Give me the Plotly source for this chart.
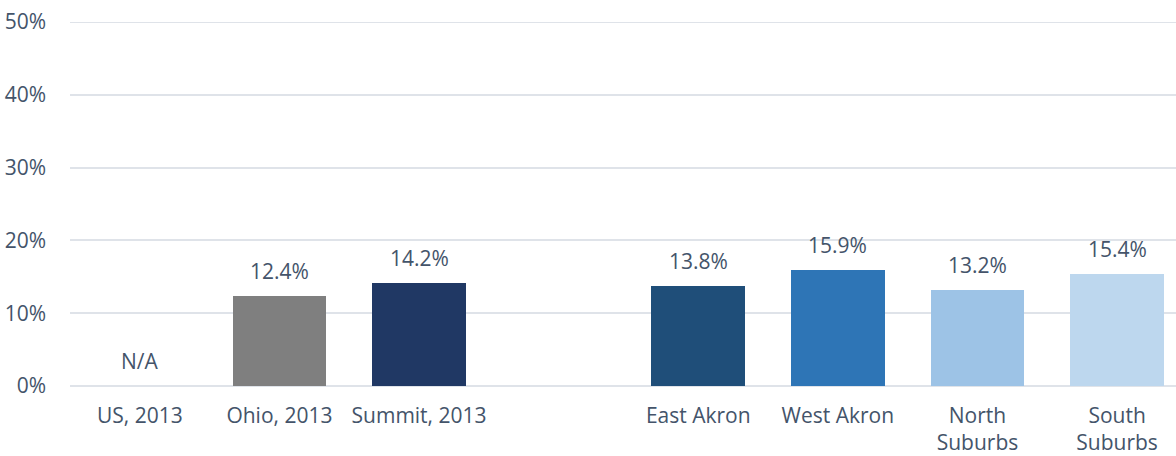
import plotly.graph_objects as go

categories = ["US, 2013", "Ohio, 2013", "Summit, 2013", "", "East Akron", "West Akron", "North<br>Suburbs", "South<br>Suburbs"]
values = [None, 12.4, 14.2, None, 13.8, 15.9, 13.2, 15.4]
value_labels = ["N/A", "12.4%", "14.2%", "", "13.8%", "15.9%", "13.2%", "15.4%"]
bar_colors = ["#7f7f7f", "#7f7f7f", "#203864", "#ffffff", "#1f4e79", "#2e75b6", "#9dc3e6", "#bdd7ee"]
y_ticks = [0, 10, 20, 30, 40, 50]
y_tick_labels = ["0%", "10%", "20%", "30%", "40%", "50%"]

FONT = "Open Sans"
TXT = "#44546a"
GRID = "#dfe3e9"
FS = 21

xs = list(range(len(categories)))

fig = go.Figure()
fig.add_trace(go.Bar(
    x=xs,
    y=[v if v is not None else 0 for v in values],
    marker=dict(color=bar_colors, line=dict(width=0)),
    width=0.67,
    hoverinfo="skip",
))

for x, v, lab in zip(xs, values, value_labels):
    if lab == "":
        continue
    fig.add_annotation(
        x=x, y=v if v is not None else 0,
        text=lab, showarrow=False,
        xanchor="center", yanchor="middle", yshift=25,
        font=dict(family=FONT, size=FS, color=TXT),
    )

fig.update_layout(
    width=1176, height=456,
    margin=dict(l=69.5, r=0, t=22, b=70, pad=0),
    paper_bgcolor="white", plot_bgcolor="white",
    showlegend=False,
    font=dict(family=FONT, size=FS, color=TXT),
    bargap=0,
    xaxis=dict(
        tickmode="array", tickvals=xs, ticktext=categories,
        range=[-0.5, 7.422], showgrid=False, zeroline=False,
        showline=False, ticks="", ticklabelstandoff=15,
        automargin=False,
        tickfont=dict(family=FONT, size=FS, color=TXT),
    ),
    yaxis=dict(
        range=[0, 50], tickvals=y_ticks, ticktext=y_tick_labels,
        showgrid=True, gridcolor=GRID, gridwidth=2,
        zeroline=True, zerolinecolor=GRID, zerolinewidth=2,
        showline=False, ticks="", ticklabelstandoff=23,
        automargin=False, ticklabeloverflow="allow",
        tickfont=dict(family=FONT, size=FS, color=TXT),
    ),
)

# add a 50% reference gridline explicitly in case the edge gridline is dropped
fig.add_shape(
    type="line", xref="paper", yref="y", x0=0, x1=1, y0=y_ticks[-1], y1=y_ticks[-1],
    line=dict(color=GRID, width=2), layer="below",
)

fig.write_html(
    "out.html",
    config={"displayModeBar": False},
    post_script="document.body.style.margin='0px';document.body.style.overflow='hidden';",
)
